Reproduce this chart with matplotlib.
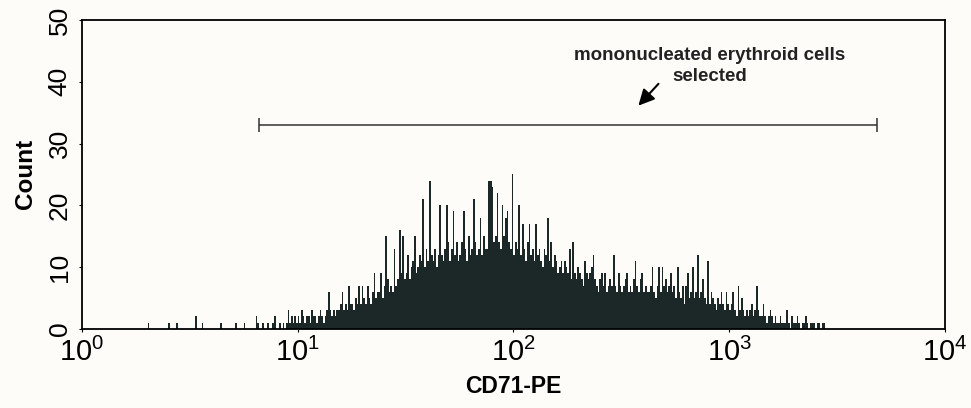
import numpy as np
import matplotlib
matplotlib.use('Agg')
import matplotlib.pyplot as plt

plt.rcParams['font.family'] = ['Liberation Sans', 'DejaVu Sans']
plt.rcParams['mathtext.fontset'] = 'custom'
plt.rcParams['mathtext.rm'] = 'Liberation Sans'

# histogram channels: 128 channels per decade, counts start at channel 32
channels_per_decade = 128
first_channel = 32
counts = [
    0, 0, 0, 0, 0, 0, 0, 1, 0, 0, 0, 0, 0, 0, 0, 0,
    0, 0, 0, 1, 0, 0, 0, 0, 1, 0, 0, 0, 0, 0, 0, 0,
    0, 0, 0, 2, 0, 0, 0, 1, 0, 0, 0, 0, 0, 0, 0, 0,
    0, 0, 1, 0, 0, 0, 0, 0, 0, 0, 0, 1, 0, 0, 0, 0,
    1, 0, 0, 0, 0, 0, 0, 2, 1, 0, 0, 1, 0, 0, 1, 0,
    0, 1, 2, 0, 0, 1, 0, 1, 0, 1, 3, 1, 2, 1, 2, 1,
    2, 1, 3, 2, 1, 2, 2, 1, 3, 2, 2, 1, 2, 3, 2, 1,
    2, 3, 6, 3, 2, 3, 2, 3, 3, 4, 6, 3, 4, 3, 7, 4,
    4, 3, 5, 4, 7, 4, 7, 5, 4, 7, 5, 4, 6, 9, 5, 6,
    6, 9, 5, 7, 15, 8, 6, 7, 6, 13, 7, 8, 16, 9, 15, 8,
    9, 12, 8, 10, 11, 15, 9, 10, 12, 11, 21, 10, 13, 11, 24, 12,
    11, 13, 10, 12, 20, 12, 11, 13, 20, 14, 11, 13, 19, 12, 14, 11,
    12, 14, 19, 13, 11, 15, 12, 13, 21, 14, 12, 13, 18, 12, 15, 13,
    13, 24, 24, 23, 14, 15, 22, 14, 13, 20, 15, 18, 19, 14, 13, 25,
    12, 14, 13, 20, 12, 17, 13, 11, 14, 17, 12, 13, 11, 17, 12, 13,
    11, 10, 13, 12, 18, 11, 14, 10, 12, 11, 9, 10, 11, 9, 11, 10,
    9, 13, 8, 14, 9, 8, 10, 9, 8, 7, 11, 9, 8, 9, 10, 12,
    8, 7, 6, 8, 9, 7, 9, 6, 7, 8, 7, 12, 7, 6, 9, 7,
    6, 7, 8, 9, 6, 7, 6, 8, 11, 7, 6, 8, 9, 6, 7, 6,
    6, 7, 10, 6, 5, 7, 10, 6, 10, 7, 8, 6, 7, 9, 6, 7,
    5, 10, 6, 5, 7, 4, 7, 9, 5, 6, 10, 5, 6, 12, 5, 6,
    8, 5, 4, 11, 4, 6, 5, 4, 3, 5, 4, 6, 4, 3, 6, 4,
    3, 4, 6, 3, 2, 7, 3, 5, 3, 2, 3, 2, 3, 4, 2, 3,
    7, 3, 2, 2, 4, 2, 1, 2, 3, 2, 1, 2, 1, 1, 2, 1,
    1, 1, 3, 1, 0, 2, 1, 1, 2, 1, 0, 1, 1, 2, 1, 0,
    1, 1, 1, 0, 1, 1, 0, 1, 1, 0, 0, 0, 0, 0, 0, 0,
]

gate_range = [6.6, 4840]
gate_level = 33
gate_label = 'mononucleated erythroid cells\nselected'
x_ticks = [1, 10, 100, 1000, 10000]
x_tick_labels = [r'$\mathregular{10^{%d}}$' % i for i in range(5)]
y_ticks = [0, 10, 20, 30, 40, 50]

bar_color = '#1c2828'
bg = '#fdfcf9'

fig = plt.figure(figsize=(9.71, 4.08), dpi=100, facecolor=bg)
ax = fig.add_axes([0.0845, 0.194, 0.8885, 0.757], facecolor=bg)

edges = 10 ** (np.arange(first_channel, first_channel + len(counts) + 1) / channels_per_decade)
ax.stairs(counts, edges, fill=True, color=bar_color, linewidth=0)

ax.set_xscale('log')
ax.set_xlim(1, 1e4)
ax.set_ylim(0, 50)
ax.set_xticks(x_ticks)
ax.set_xticklabels(x_tick_labels)
ax.minorticks_off()
ax.set_yticks(y_ticks)
ax.set_yticklabels([str(v) for v in y_ticks], rotation=90, va='center')
ax.tick_params(axis='both', direction='out', length=2.5, width=0.8)
ax.tick_params(axis='x', pad=4, labelsize=21)
ax.tick_params(axis='y', pad=5, labelsize=19)
for s in ax.spines.values():
    s.set_linewidth(1.3)
    s.set_color('black')

ax.set_xlabel('CD71-PE', fontsize=16.5, fontweight='bold', labelpad=6)
ax.set_ylabel('Count', fontsize=17.5, fontweight='bold', labelpad=8)

# gate bracket
ax.hlines(gate_level, gate_range[0], gate_range[1], color='#333333', linewidth=1.1)
ax.vlines(gate_range, gate_level - 1.1, gate_level + 1.1, color='#333333', linewidth=1.1)

ax.text(812, 42.6, gate_label, ha='center', va='center', fontsize=13.5,
        fontweight='bold', color='#222222', linespacing=1.3)
ax.annotate('', xy=(372, 35.8), xytext=(480, 40),
            arrowprops=dict(arrowstyle='-|>', color='black', lw=1.5, mutation_scale=24))

fig.savefig('out.png', dpi=100, facecolor=bg)
